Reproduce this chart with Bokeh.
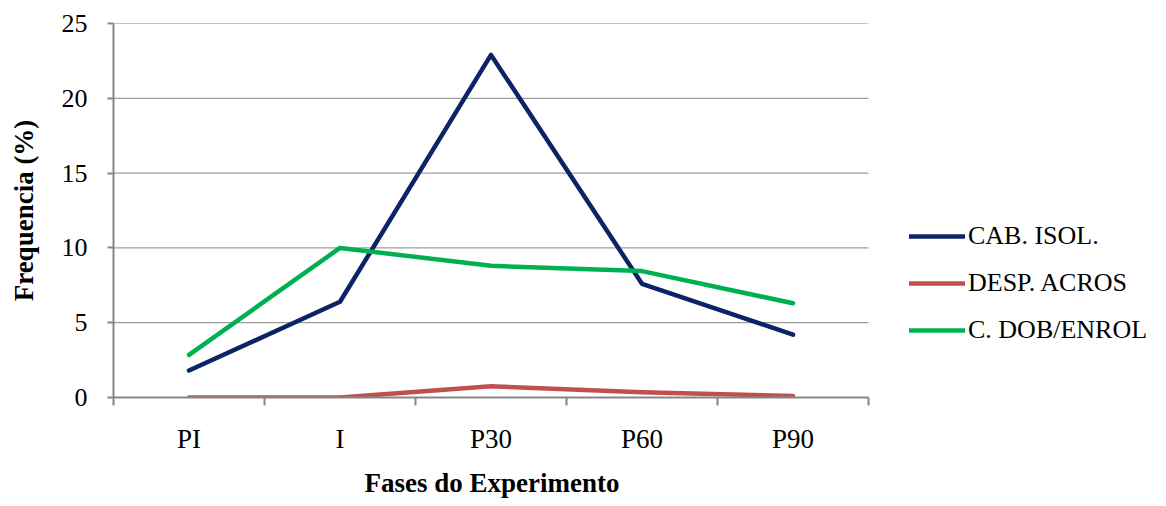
from bokeh.plotting import figure
from bokeh.models import FixedTicker, Range1d, Legend, LegendItem, Title
from bokeh.embed import file_html
from bokeh.resources import INLINE

categories = ["PI", "I", "P30", "P60", "P90"]
cab_isol = [1.8, 6.4, 22.9, 7.6, 4.2]
desp_acros = [0.0, 0.0, 0.75, 0.35, 0.1]
c_dob_enrol = [2.85, 10.0, 8.8, 8.45, 6.3]
series_names = ["CAB. ISOL.", "DESP. ACROS", "C. DOB/ENROL"]
y_ticks = [0, 5, 10, 15, 20, 25]

n = len(categories)
xpos = [i + 0.5 for i in range(n)]

FONT = "Liberation Serif"
GRAY = "#868686"

# frame spans to the right edge so the legend can sit inside it;
# plotting area (categories) occupies 755 px of the 1053 px frame
x_end = n * 1053 / 755

p = figure(width=1166, height=506, output_backend="svg", toolbar_location=None,
           x_range=Range1d(0, x_end), y_range=Range1d(0, 25),
           min_border_left=113, min_border_right=0, min_border_top=23,
           min_border_bottom=104)
p.outline_line_color = None
p.background_fill_color = "white"
p.border_fill_color = "white"

# gridlines limited to the category area
p.segment(x0=[0] * len(y_ticks), x1=[n] * len(y_ticks), y0=y_ticks, y1=y_ticks,
          line_color=GRAY, line_width=1, level="underlay")

# x axis
p.xaxis.bounds = (0, n)
p.xaxis.ticker = FixedTicker(ticks=xpos, minor_ticks=list(range(n + 1)))
p.xaxis.major_label_overrides = {x: c for x, c in zip(xpos, categories)}
p.xaxis.major_tick_out = 0
p.xaxis.major_tick_in = 0
p.xaxis.minor_tick_out = 8
p.xaxis.minor_tick_in = 0
p.xaxis.minor_tick_line_color = GRAY
p.xaxis.minor_tick_line_width = 2
p.xaxis.axis_line_color = GRAY
p.xaxis.axis_line_width = 2
p.xaxis.major_label_text_font = FONT
p.xaxis.major_label_text_font_size = "27px"
p.xaxis.major_label_text_color = "black"
p.xaxis.major_label_standoff = 18

xtitle = Title(text="Fases do Experimento", align="left", offset=251,
               text_font=FONT, text_font_size="27px", text_font_style="bold",
               text_color="black", standoff=18)
p.add_layout(xtitle, "below")

# y axis
p.yaxis.ticker = FixedTicker(ticks=y_ticks, minor_ticks=[])
p.yaxis.major_tick_out = 6
p.yaxis.major_tick_in = 0
p.yaxis.major_tick_line_color = GRAY
p.yaxis.major_tick_line_width = 2
p.yaxis.axis_line_color = GRAY
p.yaxis.axis_line_width = 2
p.yaxis.major_label_text_font = FONT
p.yaxis.major_label_text_font_size = "26px"
p.yaxis.major_label_text_color = "black"
p.yaxis.major_label_standoff = 20
p.yaxis.axis_label = "Frequencia (%)"
p.yaxis.axis_label_text_font = FONT
p.yaxis.axis_label_text_font_size = "27px"
p.yaxis.axis_label_text_font_style = "bold"
p.yaxis.axis_label_text_color = "black"
p.yaxis.axis_label_standoff = 20

p.xgrid.grid_line_color = None
p.ygrid.grid_line_color = None

colors = ["#0C2366", "#C0504D", "#00B050"]
renderers = []
for vals, col in zip([cab_isol, desp_acros, c_dob_enrol], colors):
    r = p.line(xpos, vals, line_color=col, line_width=4.5, line_join="round", line_cap="round")
    renderers.append(r)

legend = Legend(items=[LegendItem(label=nm, renderers=[r]) for nm, r in zip(series_names, renderers)],
                location=(796, 52))
legend.label_text_font = FONT
legend.label_text_font_size = "26px"
legend.label_text_color = "black"
legend.glyph_width = 56
legend.glyph_height = 20
legend.label_standoff = 3
legend.spacing = 17
legend.padding = 0
legend.margin = 0
legend.border_line_color = None
legend.background_fill_alpha = 0
p.add_layout(legend, "center")

open("out.html", "w").write(file_html(p, INLINE))
